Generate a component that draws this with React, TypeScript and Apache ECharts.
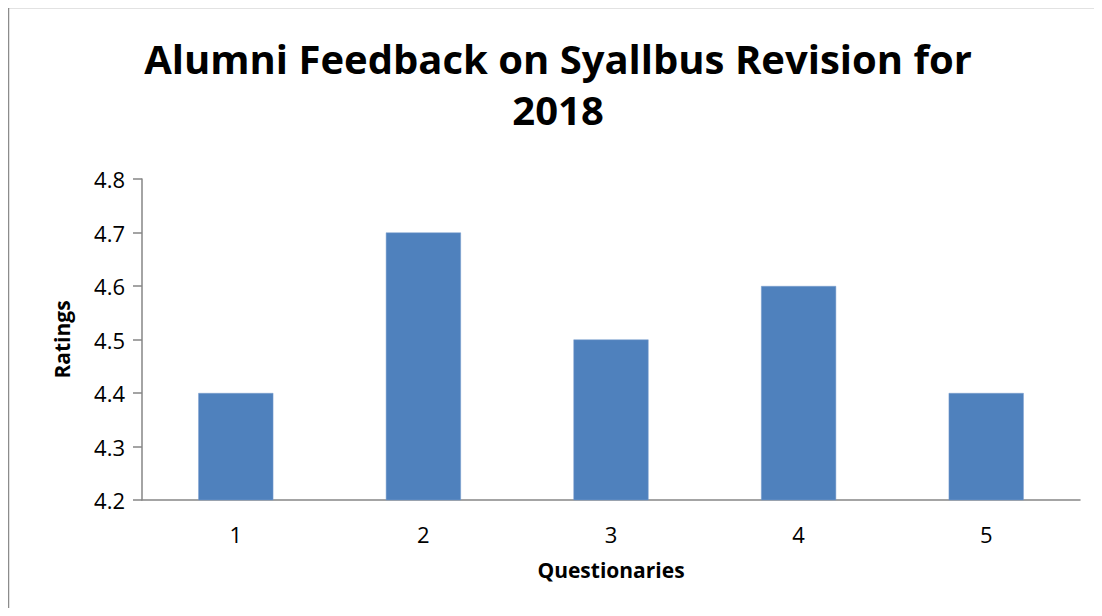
import React, { useEffect, useRef } from "react";
import * as echarts from "echarts";

const titleText = "Alumni Feedback on Syallbus Revision for\n2018";
const categories = ["1", "2", "3", "4", "5"];
const ratings = [4.4, 4.7, 4.5, 4.6, 4.4];
const yMin = 4.2;
const yMax = 4.8;
const yStep = 0.1;
const xName = "Questionaries";
const yName = "Ratings";

const FONT = "'Open Sans', 'Noto Sans', sans-serif";

export default function App() {
  const ref = useRef<HTMLDivElement>(null);
  useEffect(() => {
    if (!ref.current) return;
    const chart = echarts.init(ref.current, null, { renderer: "svg" });
    chart.setOption({
      animation: false,
      backgroundColor: "#ffffff",
      textStyle: { fontFamily: FONT },
      grid: { left: 142, right: 22, top: 179, bottom: 116, containLabel: false },
      graphic: [
        {
          type: "rect",
          shape: { x: 8.5, y: 7.5, width: 1200, height: 700 },
          style: { fill: "none", stroke: "#8c8c8c", lineWidth: 1.5 },
          silent: true,
        },
        {
          type: "text",
          x: 558,
          y: 33,
          style: {
            text: titleText,
            fontFamily: FONT,
            fontWeight: "bold",
            fontSize: 40,
            lineHeight: 51,
            fill: "#000000",
            align: "center",
            verticalAlign: "top",
          },
        },
      ],
      xAxis: {
        type: "category",
        data: categories,
        name: xName,
        nameLocation: "middle",
        nameGap: 59,
        nameTextStyle: { fontFamily: FONT, fontWeight: "bold", fontSize: 21, color: "#000" },
        axisLine: { lineStyle: { color: "#868686", width: 1.5 } },
        axisTick: { show: false },
        axisLabel: { fontFamily: FONT, fontSize: 22, color: "#000", margin: 23 },
      },
      yAxis: {
        type: "value",
        min: yMin,
        max: yMax,
        interval: yStep,
        name: yName,
        nameLocation: "middle",
        nameGap: 70,
        nameRotate: 90,
        nameTextStyle: { fontFamily: FONT, fontWeight: "bold", fontSize: 21, color: "#000" },
        splitLine: { show: false },
        axisLine: { show: true, lineStyle: { color: "#868686", width: 1.5 } },
        axisTick: { show: true, length: 9, lineStyle: { color: "#868686", width: 1.5 } },
        axisLabel: {
          fontFamily: FONT,
          fontSize: 22,
          color: "#000",
          margin: 17,
          formatter: (v: number) => v.toFixed(1),
        },
      },
      series: [
        {
          type: "bar",
          data: ratings,
          barCategoryGap: "60%",
          itemStyle: { color: "#4F81BD", borderColor: "#7a9fcf", borderWidth: 0.5 },
        },
      ],
    });
    return () => chart.dispose();
  }, []);
  return (
    <div style={{ margin: -8 }}>
      <div ref={ref} style={{ width: 1102, height: 616 }} />
    </div>
  );
}
